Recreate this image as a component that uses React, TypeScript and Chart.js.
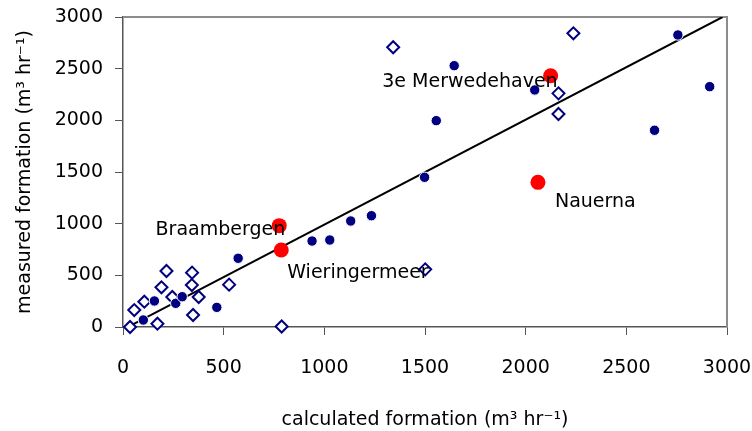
import React, { useEffect, useRef } from 'react';
import { Chart, registerables } from 'chart.js';

Chart.register(...registerables);

// open diamonds (series 1)
const openX = [35, 56, 106, 171, 191, 216, 343, 342, 376, 348, 527, 245, 788, 1501, 1342, 2163, 2163, 2237];
const openY = [0, 164, 245, 32, 384, 542, 526, 406, 290, 116, 410, 290, 5, 558, 2707, 2261, 2061, 2842];

// filled circles (series 2)
const filledX = [101, 156, 262, 294, 466, 572, 939, 1027, 1131, 1234, 1498, 1556, 1645, 2045, 2640, 2756, 2914];
const filledY = [68, 252, 229, 293, 190, 665, 832, 842, 1026, 1077, 1449, 1997, 2529, 2294, 1904, 2826, 2326];

// highlighted sites
const siteNames = ['Braambergen', 'Wieringermeer', '3e Merwedehaven', 'Nauerna'];
const siteX = [776, 786, 2124, 2061];
const siteY = [981, 745, 2432, 1400];

// fitted line
const lineX = [35, 2978];
const lineY = [10, 3000];

const tickValues = [0, 500, 1000, 1500, 2000, 2500, 3000];

const FONT = "'DejaVu Sans', sans-serif";

// label placement relative to marker (pixels)
const labelStyle: Record<string, { dx: number; dy: number; align: CanvasTextAlign }> = {
  'Braambergen': { dx: 6, dy: 4, align: 'right' },
  'Wieringermeer': { dx: 6, dy: 23, align: 'left' },
  '3e Merwedehaven': { dx: 7, dy: 6, align: 'right' },
  'Nauerna': { dx: 17, dy: 20, align: 'left' },
};

const framePlugin = {
  id: 'frameAndLabels',
  beforeDatasetsDraw(chart: any) {
    const { ctx, chartArea } = chart;
    ctx.save();
    ctx.strokeStyle = '#8c8c8c';
    ctx.lineWidth = 2;
    ctx.beginPath();
    ctx.moveTo(chartArea.left, chartArea.top);
    ctx.lineTo(chartArea.right, chartArea.top);
    ctx.lineTo(chartArea.right, chartArea.bottom);
    ctx.stroke();
    ctx.restore();
  },
  afterDatasetsDraw(chart: any) {
    const { ctx } = chart;
    const xs = chart.scales.x;
    const ys = chart.scales.y;
    ctx.save();
    ctx.fillStyle = '#000';
    ctx.font = `19px ${FONT}`;
    ctx.textBaseline = 'middle';
    siteNames.forEach((name, i) => {
      const st = labelStyle[name];
      const px = xs.getPixelForValue(siteX[i]);
      const py = ys.getPixelForValue(siteY[i]);
      ctx.textAlign = st.align;
      ctx.fillText(name, px + st.dx, py + st.dy);
    });
    ctx.restore();
  },
};

export default function App() {
  const ref = useRef<HTMLCanvasElement | null>(null);

  useEffect(() => {
    if (!ref.current) return;
    const chart = new Chart(ref.current, {
      type: 'scatter',
      data: {
        datasets: [
          {
            label: 'sites',
            data: siteX.map((x, i) => ({ x, y: siteY[i] })),
            backgroundColor: '#ff0000',
            borderColor: '#ff0000',
            borderWidth: 0,
            pointRadius: 7.5,
            clip: false,
          },
          {
            label: 'filled',
            data: filledX.map((x, i) => ({ x, y: filledY[i] })),
            backgroundColor: '#000080',
            borderColor: '#ffffff',
            borderWidth: 1,
            pointRadius: 5.2,
            clip: false,
          },
          {
            label: 'open',
            data: openX.map((x, i) => ({ x, y: openY[i] })),
            pointStyle: 'rectRot',
            backgroundColor: '#ffffff',
            borderColor: '#000080',
            borderWidth: 2,
            pointRadius: 6,
            clip: false,
          },
          {
            label: 'fit',
            type: 'line',
            data: lineX.map((x, i) => ({ x, y: lineY[i] })),
            borderColor: '#000000',
            borderWidth: 2,
            pointRadius: 0,
            showLine: true,
            fill: false,
          } as any,
        ],
      },
      options: {
        animation: false,
        responsive: false,
        maintainAspectRatio: false,
        layout: { padding: { left: 0, right: 25, top: 17, bottom: 0 } },
        plugins: {
          legend: { display: false },
          tooltip: { enabled: false },
        },
        scales: {
          x: {
            type: 'linear',
            min: 0,
            max: 3000,
            afterBuildTicks: (axis: any) => {
              axis.ticks = tickValues.map((v) => ({ value: v }));
            },
            afterFit: (axis: any) => {
              axis.height = 104;
              axis.paddingLeft = 0;
              axis.paddingRight = 0;
            },
            ticks: {
              color: '#000',
              font: { family: FONT, size: 19 },
              padding: 22,
              maxRotation: 0,
              callback: (v: any) => String(v),
            },
            grid: {
              display: true,
              drawOnChartArea: false,
              drawTicks: true,
              tickLength: 8,
              color: '#555',
            },
            border: { display: true, color: '#555', width: 1.5 },
            title: {
              display: true,
              text: 'calculated formation (m³ hr⁻¹)',
              color: '#000',
              font: { family: FONT, size: 19 },
              padding: { top: 0, bottom: 0 },
            },
          },
          y: {
            type: 'linear',
            min: 0,
            max: 3000,
            afterBuildTicks: (axis: any) => {
              axis.ticks = tickValues.map((v) => ({ value: v }));
            },
            afterFit: (axis: any) => {
              axis.width = 123;
              axis.paddingTop = 0;
              axis.paddingBottom = 0;
            },
            ticks: {
              color: '#000',
              font: { family: FONT, size: 19 },
              padding: 12,
              callback: (v: any) => String(v),
            },
            grid: {
              display: true,
              drawOnChartArea: false,
              drawTicks: true,
              tickLength: 8,
              color: '#555',
            },
            border: { display: true, color: '#555', width: 1.5 },
            title: {
              display: true,
              text: 'measured formation (m³ hr⁻¹)',
              color: '#000',
              font: { family: FONT, size: 19 },
              padding: { top: 14, bottom: 0 },
            },
          },
        },
      },
      plugins: [framePlugin],
    });
    return () => chart.destroy();
  }, []);

  return (
    <div style={{ position: 'fixed', left: 0, top: 0, width: 752, height: 431, background: '#fff' }}>
      <canvas ref={ref} width={752} height={431} style={{ width: 752, height: 431 }} />
    </div>
  );
}
